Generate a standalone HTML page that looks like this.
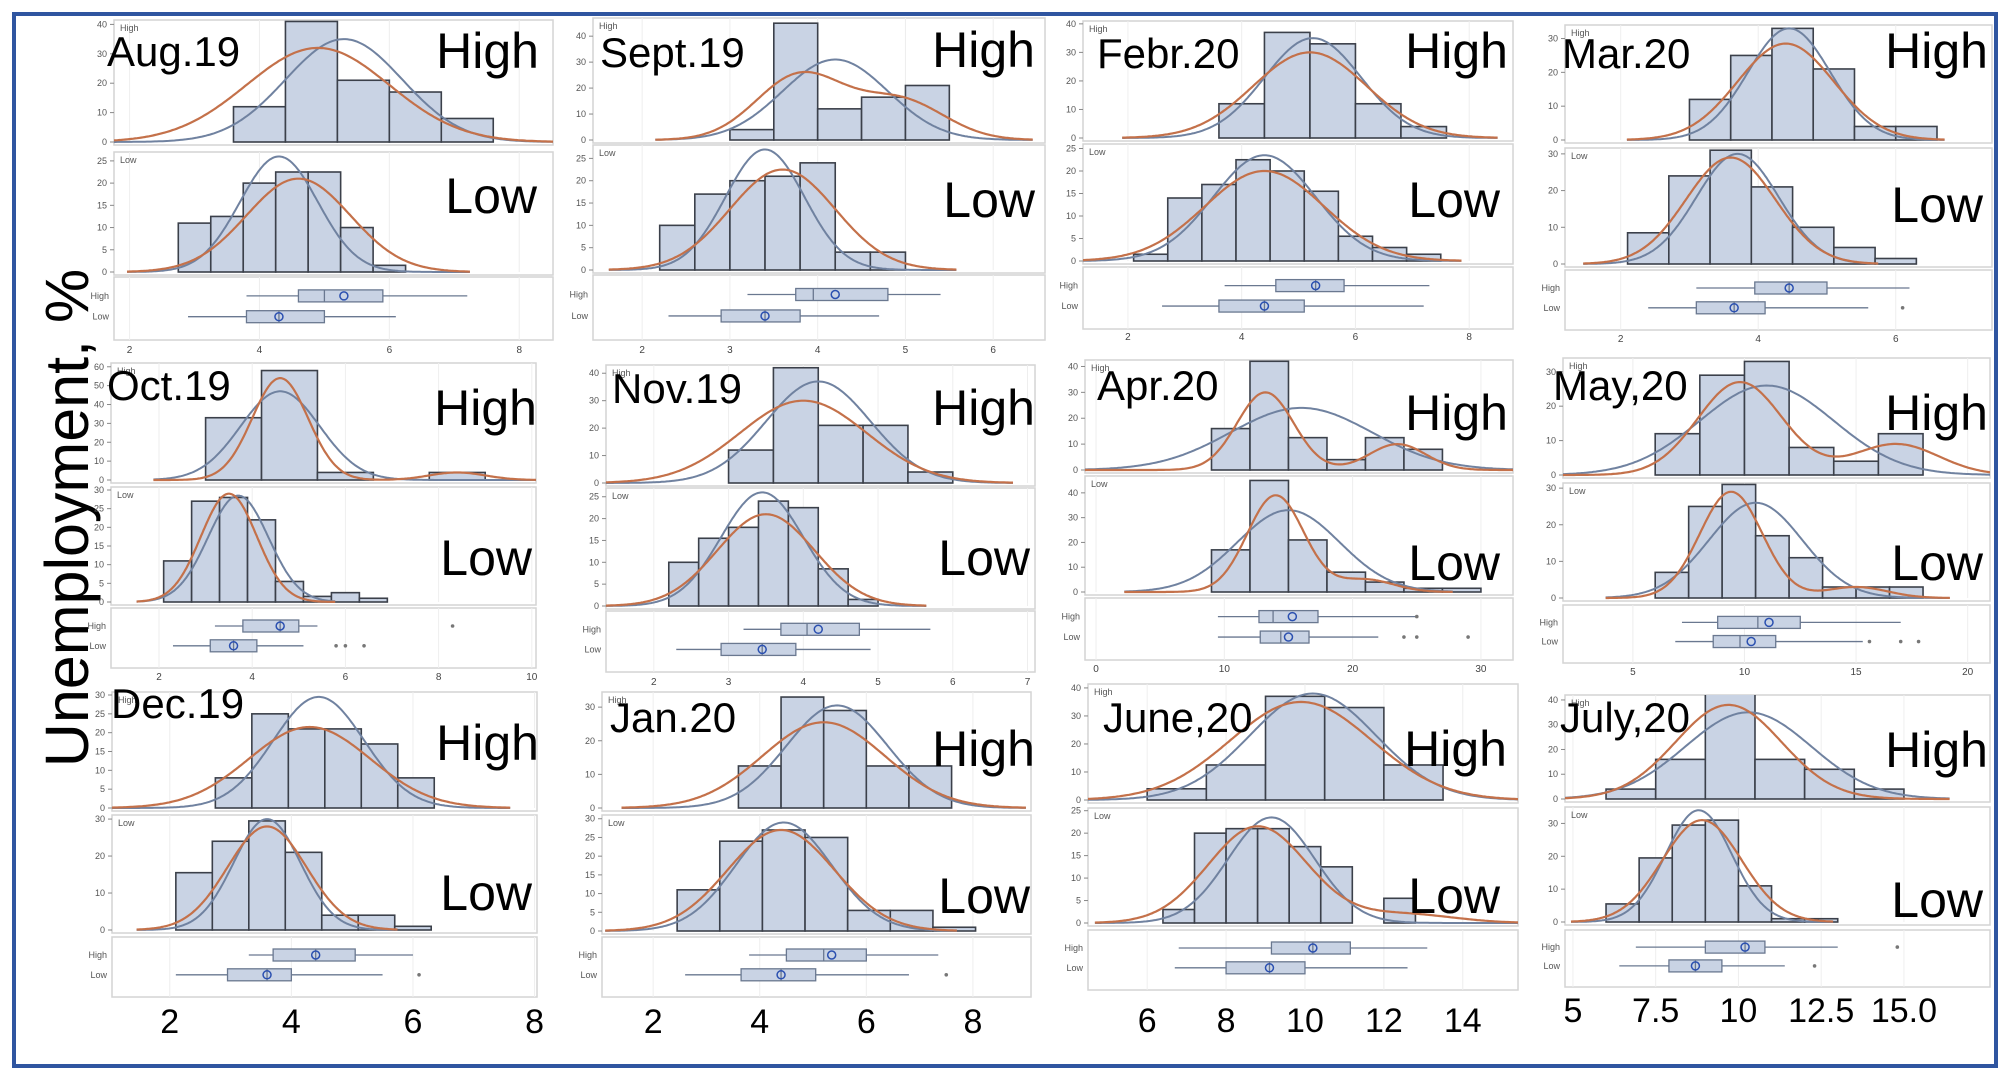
<!DOCTYPE html>
<html><head><meta charset="utf-8">
<style>
html,body{margin:0;padding:0;background:#fff;}
svg{display:block;font-family:"Liberation Sans",sans-serif;}
</style></head>
<body>
<svg id="chart" width="2008" height="1078" viewBox="0 0 2008 1078" xmlns="http://www.w3.org/2000/svg">
<rect x="0" y="0" width="2008" height="1078" fill="#fff"/>
<rect x="14" y="14" width="1982" height="1052" fill="none" stroke="#2f55a0" stroke-width="4"/>
<text x="0" y="0" font-size="61" fill="#000" transform="translate(88,518) rotate(-90)" text-anchor="middle">Unemployment, %</text>
<g id="panels"></g>
</svg>
<script>
const months = ["Aug.19","Sept.19","Febr.20","Mar.20","Oct.19","Nov.19","Apr.20","May,20","Dec.19","Jan.20","June,20","July,20"];
const xLo = [1.76,1.44,1.21,1.19,0.97,1.36,-0.86,1.87,1.05,1.04,4.5,4.76];
const xHi = [8.52,6.59,8.77,7.4,10.09,7.1,32.5,21,8.04,9.09,15.4,17.6];
const xTicks = [[2,4,6,8],[2,3,4,5,6],[2,4,6,8],[2,4,6],[2,4,6,8,10],[2,3,4,5,6,7],[0,10,20,30],[5,10,15,20],[2,4,6,8],[2,4,6,8],[6,8,10,12,14],[5,7.5,10,12.5,15]];
const xTickLabels = [null,null,null,null,null,null,null,null,["2","4","6","8"],["2","4","6","8"],["6","8","10","12","14"],["5","7.5","10","12.5","15.0"]];
const highStart = [3.6,3.0,3.6,3.0,3.0,3.0,9,6,2.75,3.6,6,6.0];
const highWidth = [0.8,0.5,0.8,0.6,1.2,0.6,3,2,0.6,0.8,1.5,1.5];
const highCounts = [[12,41,21,17,8],[4,45,12,16.5,21],[12,37,33,12,4],[12,25,33,21,4,4],[33,58,4,0,4],[12,42,21,21,4],[16,42,12.5,4,12.5,8],[12,29,33,8,4,12],[8,25,21,21,17,8],[12.5,33,29,12.5,12.5],[4,12.5,37,33,12.5],[4,16,45,16,12,4]];
const lowStart = [2.75,2.2,2.1,2.1,2.1,2.2,9,6,2.1,2.45,6.4,6.0];
const lowWidth = [0.5,0.4,0.6,0.6,0.6,0.4,3,1.5,0.6,0.8,0.8,1.0];
const lowCounts = [[11,12.5,20,22.5,22.5,10,1.5],[10,17,20,21,24,4,4],[1.5,14,17,22.5,20,15.5,5.5,3,1.5],[8.5,24,31,21,10,4.5,1.5],[11,27,28,22,5.5,1.5,2.5,1],[10,15.5,18,24,22.5,8.5,1.5],[17,45,21,8,4,1.5,1.5],[7,25,31,17,11,3,3,3],[15.5,24,29.5,21,4,4,1],[11,24,27,25,5.5,5.5,1],[3,20,21,21,17,12.5,0,5.5],[5.5,19.5,29.5,31,11,1,1]];
const highYMax = [41.5,47,41,34,62,43,42.5,34,30.8,34.5,41.4,42];
const lowYMax = [27,28,26,31.6,30.8,27,46.8,31.4,31.1,31,25.6,35];
const highYStep = [10,10,10,10,10,10,10,10,5,10,10,10];
const lowYStep = [5,5,5,10,5,5,10,10,10,5,5,10];
const highNormMu = [5.3,4.2,5.25,4.45,4.6,4.2,16,11,4.45,5.45,10.2,10.3];
const highNormSd = [0.9,0.6,0.85,0.6,0.85,0.7,5.5,3,0.75,0.95,1.6,1.9];
const highNormPeak = [35,31,35,33,47,37,24,26,29.5,30.5,38,35];
const highKerMu = [4.9,3.8,5.2,4.4,4.6,4.0,13.2,9.8,4.3,5.2,9.9,9.7];
const highKerSd = [1.1,0.5,1.0,0.7,0.6,0.85,2.2,1.9,1.0,1.15,1.8,1.6];
const highKerPeak = [32,25,30,28.5,54,30,30,27,21.5,25.5,35,38];
const highKer2Mu = [0,4.95,0,0,8.4,0,23.5,16.8,0,0,0,0];
const highKer2Peak = [0,15,0,0,4,0,10,9,0,0,0,0];
const lowNormMu = [4.3,3.4,4.4,3.7,3.7,3.45,15,10.5,3.6,4.45,9.15,8.8];
const lowNormSd = [0.6,0.45,0.9,0.6,0.65,0.55,4,2.1,0.55,0.9,1.1,1.0];
const lowNormPeak = [26,27,23.5,30,28.5,26,33,26,30,29,23.5,34];
const lowKerMu = [4.6,3.6,4.4,3.6,3.5,3.5,14,9.4,3.6,4.4,8.8,8.9];
const lowKerSd = [0.8,0.6,1.05,0.65,0.6,0.65,2.2,1.4,0.65,1.0,1.25,1.2];
const lowKerPeak = [21,22.5,20,29,29,21,39,29,28,27,21.5,31];
const lowKer2Mu = [0,0,0,0,0,0,21,15,0,0,12.5,0];
const lowKer2Peak = [0,0,0,0,0,0,5,3,0,0,2,0];
// box plots: [whiskerLo, q1, median, q3, whiskerHi, mean]
const highBox = [[3.8,4.6,5.0,5.9,7.2,5.3],[3.2,3.75,3.95,4.8,5.4,4.2],[3.7,4.6,5.3,5.8,7.3,5.3],[3.1,3.95,4.45,5.0,6.2,4.45],[3.2,3.8,4.6,5.0,5.4,4.6],[3.2,3.7,4.05,4.75,5.7,4.2],[9.5,12.7,13.8,17.3,25,15.3],[7.2,8.8,10.6,12.5,17,11.1],[3.3,3.7,4.4,5.05,6.0,4.4],[3.8,4.5,5.2,6.0,7.35,5.35],[6.8,9.15,10.2,11.15,13.1,10.2],[6.9,9,10.2,10.8,13,10.2]];
const lowBox = [[2.9,3.8,4.3,5.0,6.1,4.3],[2.3,2.9,3.4,3.8,4.7,3.4],[2.6,3.6,4.4,5.1,7.2,4.4],[2.4,3.1,3.65,4.1,5.6,3.65],[2.3,3.1,3.6,4.1,5.1,3.6],[2.3,2.9,3.45,3.9,4.9,3.45],[9.5,12.8,14.4,16.6,22,15],[6.9,8.6,9.8,11.4,15.3,10.3],[2.1,2.95,3.6,4.0,5.5,3.6],[2.6,3.65,4.4,5.05,6.8,4.4],[6.7,8.0,9.1,10.0,12.6,9.1],[6.4,7.9,8.7,9.5,11.4,8.7]];
const highOutliers = [[],[],[],[],[8.3],[],[25],[],[],[],[],[14.8]];
const lowOutliers = [[],[],[],[6.1],[5.8,6.0,6.4],[],[24,25,29],[15.6,17,17.8],[6.1],[7.5],[],[12.3]];

// layout (pixel geometry per panel)
const frameX0 = [114,593,1083,1565,111,606,1085,1563,112,602,1088,1565];
const frameX1 = [553,1045,1513,1992,536,1035,1513,1990,537,1031,1518,1990];
const gHT = [20,18,21,25,363,365,360,358,692,692,684,695];
const gHZ = [142,140,138,140,480,483,470,475,808,808,800,799];
const gLT = [152,145,144,148,487,488,476,483,815,815,808,807];
const gLZ = [272,270,261,264,602,606,592,598,930,931,923,922];
const gBT = [277,275,267,270,608,611,598,605,937,937,930,930];
const gBB = [340,340,329,330,668,672,660,663,997,997,990,987];
const gTK = [353,353,340,342,680,685,672,675,1033,1033,1032,1022];
const monX = [107,600,1097,1562,107,612,1097,1553,111,610,1103,1560];
const monY = [66,67,68,68,400,403,400,400,718,732,732,732];
const hiR = [539,1035,1508,1988,537,1035,1508,1988,539,1035,1507,1988];
const hiY = [68,67,68,68,425,425,430,430,760,766,766,767];
const loR = [537,1035,1500,1983,532,1030,1500,1983,532,1030,1500,1983];
const loY = [213,217,217,222,575,575,580,580,910,913,913,917];

const NS = "http://www.w3.org/2000/svg";
const root = document.getElementById('panels');
function mk(tag, attrs, parent){const e=document.createElementNS(NS,tag);for(const k in attrs)e.setAttribute(k,attrs[k]);(parent||root).appendChild(e);return e;}
function gauss(x,mu,sd,pk){return pk*Math.exp(-0.5*((x-mu)/sd)*((x-mu)/sd));}

for(let i=0;i<12;i++){
  const x0=frameX0[i], x1=frameX1[i];
  const g=mk('g',{});
  
  
  const sx=v=>x0+(v-xLo[i])/(xHi[i]-xLo[i])*(x1-x0);
  function hist(top,zero,ymax,step,start,w,counts,nm,nsd,npk,km,ksd,kpk,k2m,k2p,nameP){
    const sy=v=>zero-(v/ymax)*(zero-top);
    const cid='clip'+nameP+i;
    const cp=mk('clipPath',{id:cid},g);
    mk('rect',{x:x0,y:top,width:x1-x0,height:zero-top+2},cp);
    const fr=mk('rect',{x:x0,y:top,width:x1-x0,height:zero-top+3,fill:'#fff',stroke:'#d4d4d4','stroke-width':1.5},g);
    
    
    xTicks[i].forEach(t=>mk('line',{x1:sx(t),x2:sx(t),y1:top,y2:zero,stroke:'#eee','stroke-width':1},g));
    for(let t=0;t<=ymax;t+=step){
      mk('line',{x1:x0-4,x2:x0,y1:sy(t),y2:sy(t),stroke:'#888'},g);
      const tl=mk('text',{x:x0-7,y:sy(t)+3,'font-size':9,'text-anchor':'end',fill:'#555'},g);
      tl.textContent=t;
      
      
    }
    const gg=mk('g',{'clip-path':'url(#'+cid+')'},g);
    counts.forEach((v,j)=>{
      if(v<=0) return;
      const b=mk('rect',{x:sx(start+j*w),y:sy(v),width:sx(start+(j+1)*w)-sx(start+j*w),height:zero-sy(v),fill:'#c9d3e4',stroke:'#3b404a','stroke-width':1.6},gg);
      
      
    });
    let pb='',po='';
    const a=Math.min(nm-3.2*nsd,km-3.3*ksd), bnd=Math.max(nm+3.2*nsd,km+3.3*ksd,k2p?k2m+3*ksd:0);
    for(let k=0;k<=240;k++){
      const x=a+(bnd-a)*k/240;
      pb+=(k?'L':'M')+sx(x).toFixed(1)+','+sy(gauss(x,nm,nsd,npk)).toFixed(1);
      const ko=gauss(x,km,ksd,kpk)+(k2p?gauss(x,k2m,ksd,k2p):0);
      po+=(k?'L':'M')+sx(x).toFixed(1)+','+sy(ko).toFixed(1);
    }
    const lb=mk('path',{d:pb,fill:'none',stroke:'#7082a0','stroke-width':2},gg);
    
    
    const lo=mk('path',{d:po,fill:'none',stroke:'#c4714a','stroke-width':2.2},gg);
    
    
    const tg=mk('text',{x:x0+6,y:top+11,'font-size':9,fill:'#555'},g);
    tg.textContent=nameP.indexOf('high')>=0?'High':'Low';
    
    
  }
  hist(gHT[i],gHZ[i],highYMax[i],highYStep[i],highStart[i],highWidth[i],highCounts[i],highNormMu[i],highNormSd[i],highNormPeak[i],highKerMu[i],highKerSd[i],highKerPeak[i],highKer2Mu[i],highKer2Peak[i],'high-hist');
  hist(gLT[i],gLZ[i],lowYMax[i],lowYStep[i],lowStart[i],lowWidth[i],lowCounts[i],lowNormMu[i],lowNormSd[i],lowNormPeak[i],lowKerMu[i],lowKerSd[i],lowKerPeak[i],lowKer2Mu[i],lowKer2Peak[i],'low-hist');
  const bt=gBT[i], bb=gBB[i];
  const bf=mk('rect',{x:x0,y:bt,width:x1-x0,height:bb-bt,fill:'#fff',stroke:'#d4d4d4','stroke-width':1.5},g);
  
  
  xTicks[i].forEach(t=>mk('line',{x1:sx(t),x2:sx(t),y1:bt,y2:bb,stroke:'#eee'},g));
  const bh=(bb-bt);
  [[highBox[i],highOutliers[i],bt+bh*0.3,'High'],[lowBox[i],lowOutliers[i],bt+bh*0.63,'Low']].forEach(([bx,ol,cy,nm])=>{
    const bg=mk('g',{},g);
    
    
    mk('line',{x1:sx(bx[0]),x2:sx(bx[4]),y1:cy,y2:cy,stroke:'#6a7890','stroke-width':1.3},bg);
    mk('rect',{x:sx(bx[1]),y:cy-6,width:sx(bx[3])-sx(bx[1]),height:12,fill:'#c9d3e4',stroke:'#6a7890','stroke-width':1.3},bg);
    mk('line',{x1:sx(bx[2]),x2:sx(bx[2]),y1:cy-6,y2:cy+6,stroke:'#6a7890','stroke-width':1.3},bg);
    mk('circle',{cx:sx(bx[5]),cy:cy,r:4,fill:'none',stroke:'#2b50b0','stroke-width':1.5},bg);
    ol.forEach(o=>mk('circle',{cx:sx(o),cy:cy,r:1.8,fill:'#777'},bg));
    const t=mk('text',{x:x0-5,y:cy+3,'font-size':9,'text-anchor':'end',fill:'#555'},bg);
    t.textContent=nm;
  });
  const big=Math.floor(i/4)===2;
  xTicks[i].forEach((t,j)=>{
    const tl=mk('text',{x:sx(t),y:gTK[i],'font-size':big?34:10,'text-anchor':'middle',fill:big?'#000':'#444'},g);
    tl.textContent=big?xTickLabels[i][j]:t;
    
    
  });
  const ml=mk('text',{x:monX[i],y:monY[i],'font-size':42,fill:'#000'},g);
  ml.textContent=months[i];
  
  
  const hl=mk('text',{x:hiR[i],y:hiY[i],'font-size':50,'text-anchor':'end',fill:'#000'},g);
  hl.textContent='High';
  
  
  const ll=mk('text',{x:loR[i],y:loY[i],'font-size':50,'text-anchor':'end',fill:'#000'},g);
  ll.textContent='Low';
  
  
}
</script>
</body></html>
